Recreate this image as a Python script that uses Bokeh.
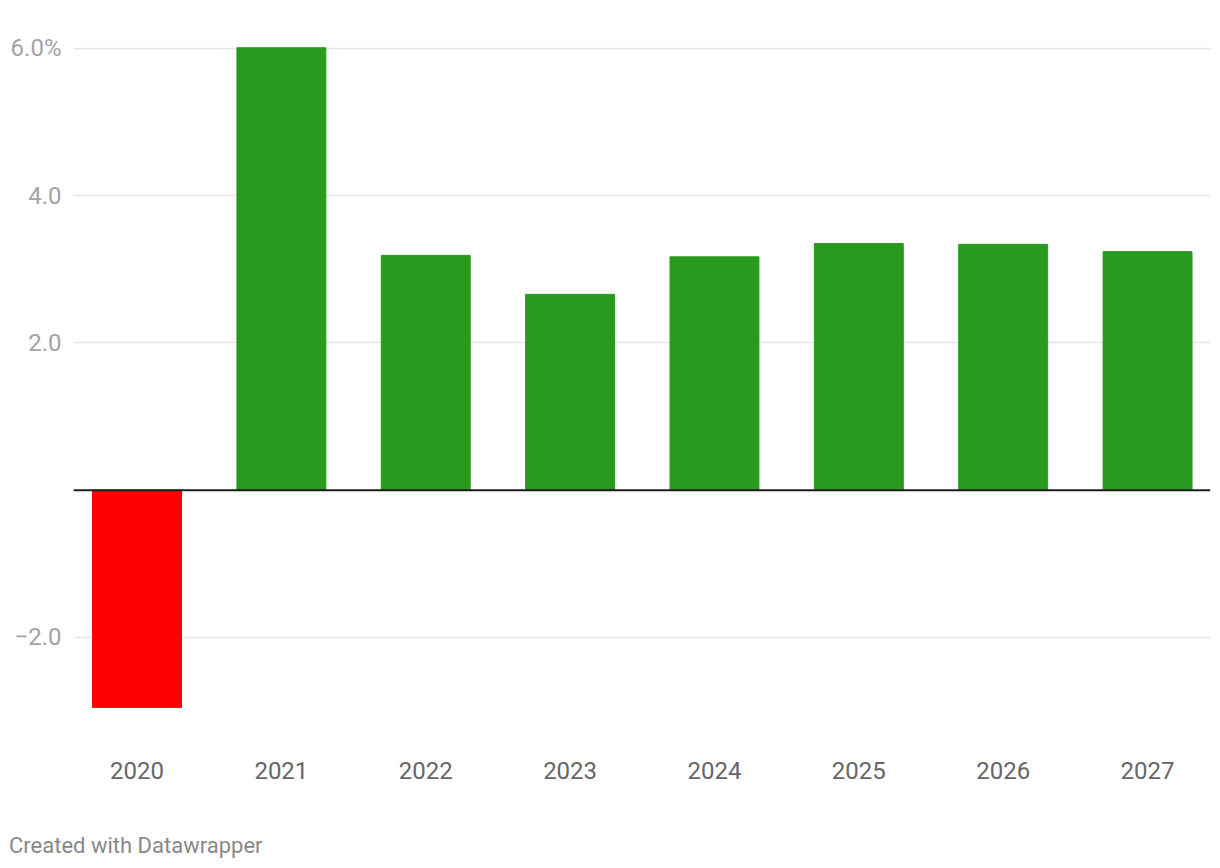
from bokeh.plotting import figure
from bokeh.layouts import column
from bokeh.models import Range1d, FixedTicker, Span, Div, ColumnDataSource
from bokeh.embed import file_html
from bokeh.resources import INLINE

years = ["2020", "2021", "2022", "2023", "2024", "2025", "2026", "2027"]
growth = [-2.95, 6.01, 3.19, 2.66, 3.17, 3.35, 3.34, 3.24]
colors = ["#ff0000" if v < 0 else "#289b1e" for v in growth]
y_ticks = [-2, 2, 4, 6]
y_labels = {-2: "\u22122.0", 2: "2.0", 4: "4.0", 6: "6.0%"}
credit_text = "Created with Datawrapper"

src = ColumnDataSource(dict(x=list(range(len(years))), top=growth, color=colors))

p = figure(width=1212, height=800, output_backend="svg", toolbar_location=None,
           x_range=Range1d(-0.44, 7.436), y_range=Range1d(-3.264, 6.38),
           min_border_left=73, min_border_right=2, min_border_top=20,
           min_border_bottom=70)
p.outline_line_color = None
p.background_fill_color = "white"
p.border_fill_color = "white"

p.vbar(x="x", top="top", bottom=0, width=0.616, color="color", source=src)

p.add_layout(Span(location=0, dimension="width", line_color="#1d1d1d", line_width=2))

# y axis
p.yaxis.ticker = FixedTicker(ticks=y_ticks)
p.yaxis.major_label_overrides = y_labels
p.yaxis.axis_line_color = None
p.yaxis.major_tick_line_color = None
p.yaxis.minor_tick_line_color = None
p.yaxis.major_label_text_font = "Roboto"
p.yaxis.major_label_text_font_size = "24px"
p.yaxis.major_label_text_color = "#a3a3a3"
p.yaxis.major_label_standoff = 6

p.ygrid.ticker = FixedTicker(ticks=y_ticks)
p.ygrid.grid_line_color = "#e6e6e6"
p.ygrid.grid_line_width = 1.5
p.xgrid.grid_line_color = None

# x axis
p.xaxis.ticker = FixedTicker(ticks=list(range(len(years))))
p.xaxis.major_label_overrides = {i: y for i, y in enumerate(years)}
p.xaxis.axis_line_color = None
p.xaxis.major_tick_line_color = None
p.xaxis.minor_tick_line_color = None
p.xaxis.major_tick_out = 0
p.xaxis.major_label_text_font = "Roboto"
p.xaxis.major_label_text_font_size = "24px"
p.xaxis.major_label_text_color = "#666666"
p.xaxis.major_label_standoff = 31

credit = Div(text=credit_text, width=1212, height=60,
             styles={"font-family": "Roboto", "font-size": "22px", "color": "#888888",
                     "padding-left": "4px", "padding-top": "28px",
                     "line-height": "26px", "box-sizing": "border-box",
                     "background-color": "white"})

layout = column(p, credit, spacing=0)

open("out.html", "w").write(file_html(layout, INLINE))
